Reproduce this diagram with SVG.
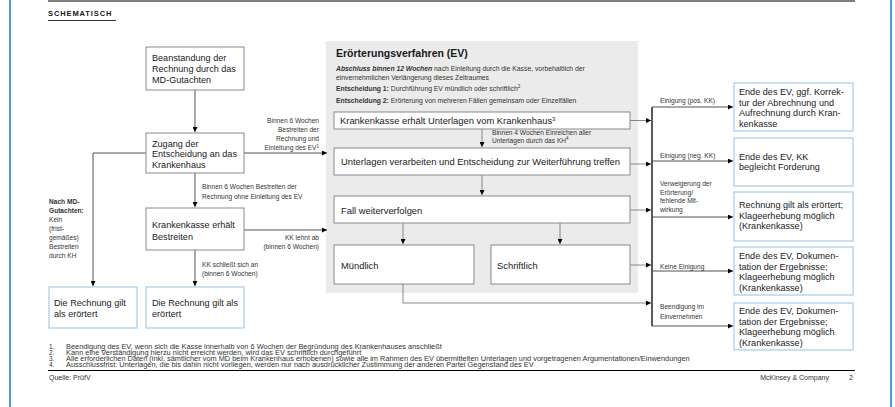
<svg xmlns="http://www.w3.org/2000/svg" width="895" height="407" viewBox="0 0 895 407">
<style>
text{font-family:"Liberation Sans",Arial,sans-serif;fill:#1a1a1a}
.bx{font-size:9.1px}
.be{font-size:9.4px}
.lb{font-size:6.6px;fill:#333}
.ds{font-size:6.8px;fill:#333}
.fn{font-size:6.4px;fill:#333}
.ft{font-size:7px;fill:#333}
.b{font-weight:bold}
.gb{fill:#fff;stroke:#8a8a8a;stroke-width:1}
.bb{fill:#fff;stroke:#a3cbe8;stroke-width:1.2}
.c{fill:none;stroke:#404040;stroke-width:0.9}
.cg{fill:none;stroke:#7a7a7a;stroke-width:0.9}
.bus{fill:none;stroke:#000;stroke-width:1.3}
</style>
<defs>
<marker id="ah" viewBox="0 0 6 6" refX="6" refY="3" markerWidth="5" markerHeight="5" orient="auto" markerUnits="userSpaceOnUse"><path d="M0,0 L6,3 L0,6 z" fill="#000"/></marker>
</defs>
<rect x="0" y="0" width="895" height="407" fill="#fff"/>
<g id="frame">
<rect x="9" y="0" width="2" height="407" fill="#4a9ad4"/>
<rect x="890" y="0" width="2" height="407" fill="#4a9ad4"/>
<line x1="48" y1="1" x2="855" y2="1" stroke="#000" stroke-width="1.2"/>
<text x="48" y="16" class="b" style="font-size:7.5px;letter-spacing:0.9px">SCHEMATISCH</text>
<line x1="48" y1="20.5" x2="116" y2="20.5" stroke="#000" stroke-width="0.8"/>
</g>
<g id="ev-panel">
<rect x="326" y="41" width="312" height="252" fill="#ebebeb"/>
<text x="336" y="57" class="b" style="font-size:10.5px">Erörterungsverfahren (EV)</text>
<text x="336" y="71" class="ds"><tspan class="b" font-style="italic">Abschluss binnen 12 Wochen</tspan> nach Einleitung durch die Kasse, vorbehaltlich der</text>
<text x="336" y="79.5" class="ds">einvernehmlichen Verlängerung dieses Zeitraumes</text>
<text x="336" y="91" class="ds"><tspan class="b">Entscheidung 1:</tspan> Durchführung EV mündlich oder schriftlich<tspan font-size="4.6" dy="-2.6">2</tspan></text>
<text x="336" y="103" class="ds"><tspan class="b">Entscheidung 2:</tspan> Erörterung von mehreren Fällen gemeinsam oder Einzelfällen</text>
</g>
<g id="connectors">
<path class="c" d="M195,90 V132" marker-end="url(#ah)"/>
<path class="c" d="M195,173 V207" marker-end="url(#ah)"/>
<path class="c" d="M195,250 V286" marker-end="url(#ah)"/>
<path class="c" d="M146,153 H93 V286" marker-end="url(#ah)"/>
<path class="c" d="M244,153 H327" marker-end="url(#ah)"/>
<path class="c" d="M244,230 H327" marker-end="url(#ah)"/>
<path class="cg" d="M482,129 V147" marker-end="url(#ah)"/>
<path class="cg" d="M482,175 V195" marker-end="url(#ah)"/>
<path class="cg" d="M403,223 V244" marker-end="url(#ah)"/>
<path class="cg" d="M560,223 V244" marker-end="url(#ah)"/>
<path class="cg" d="M630,120.5 H651" marker-end="url(#ah)"/>
<path class="cg" d="M630,164 H651" marker-end="url(#ah)"/>
<path class="cg" d="M630,210 H651" marker-end="url(#ah)"/>
<path class="cg" d="M630,265 H651" marker-end="url(#ah)"/>
<path class="cg" d="M403,284 V303 H651" marker-end="url(#ah)"/>
<path class="bus" d="M652,107 V326"/>
<path class="c" d="M652,107 H733" marker-end="url(#ah)"/>
<path class="c" d="M652,161 H733" marker-end="url(#ah)"/>
<path class="c" d="M652,217 H733" marker-end="url(#ah)"/>
<path class="c" d="M652,271 H733" marker-end="url(#ah)"/>
<path class="c" d="M652,326 H733" marker-end="url(#ah)"/>
</g>
<g id="connector-labels">
<text class="lb" text-anchor="end" x="319" y="123">Binnen 6 Wochen</text>
<text class="lb" text-anchor="end" x="319" y="132">Bestreiten der</text>
<text class="lb" text-anchor="end" x="319" y="141">Rechnung und</text>
<text class="lb" text-anchor="end" x="319" y="150">Einleitung des EV<tspan font-size="4.5" dy="-2.5">1</tspan></text>
<text class="lb" x="202" y="189">Binnen 6 Wochen Bestreiten der</text>
<text class="lb" x="202" y="199">Rechnung ohne Einleitung des EV</text>
<text class="lb" text-anchor="end" x="319" y="240">KK lehnt ab</text>
<text class="lb" text-anchor="end" x="319" y="249">(binnen 6 Wochen)</text>
<text class="lb" x="202" y="267">KK schließt sich an</text>
<text class="lb" x="202" y="276">(binnen 6 Wochen)</text>
<text class="lb b" x="49" y="204">Nach MD-</text>
<text class="lb b" x="49" y="213">Gutachten:</text>
<text class="lb" x="49" y="222">Kein</text>
<text class="lb" x="49" y="231">(frist-</text>
<text class="lb" x="49" y="240">gemäßes)</text>
<text class="lb" x="49" y="249">Bestreiten</text>
<text class="lb" x="49" y="258">durch KH</text>
<text class="lb" x="492" y="134.5">Binnen 4 Wochen Einreichen aller</text>
<text class="lb" x="492" y="142.5">Unterlagen durch das KH<tspan font-size="4.5" dy="-2.5">4</tspan></text>
<text class="lb" x="660" y="103">Einigung (pos. KK)</text>
<text class="lb" x="660" y="158">Einigung (neg. KK)</text>
<text class="lb" x="660" y="186">Verweigerung der</text>
<text class="lb" x="660" y="194.5">Erörterung/</text>
<text class="lb" x="660" y="203">fehlende Mit-</text>
<text class="lb" x="660" y="211.5">wirkung</text>
<text class="lb" x="660" y="269">Keine Einigung</text>
<text class="lb" x="660" y="309">Beendigung im</text>
<text class="lb" x="660" y="318.5">Einvernehmen</text>
</g>
<g id="n-beanstandung">
<rect class="gb" x="146" y="47" width="98" height="43"/>
<text class="bx" x="152" y="61">Beanstandung der</text>
<text class="bx" x="152" y="72">Rechnung durch das</text>
<text class="bx" x="152" y="83">MD-Gutachten</text>
</g>
<g id="n-zugang">
<rect class="gb" x="146" y="133" width="98" height="40"/>
<text class="bx" x="152" y="146.5">Zugang der</text>
<text class="bx" x="152" y="157">Entscheidung an das</text>
<text class="bx" x="152" y="167.5">Krankenhaus</text>
</g>
<g id="n-kk-bestreiten">
<rect class="gb" x="146" y="208" width="98" height="42"/>
<text class="bx" x="152" y="228">Krankenkasse erhält</text>
<text class="bx" x="152" y="239.5">Bestreiten</text>
</g>
<g id="n-eroertert-a">
<rect class="bb" x="49" y="287" width="88" height="41"/>
<text class="bx" x="54" y="306">Die Rechnung gilt</text>
<text class="bx" x="54" y="317">als erörtert</text>
</g>
<g id="n-eroertert-b">
<rect class="bb" x="146" y="287" width="98" height="41"/>
<text class="bx" x="152" y="306">Die Rechnung gilt als</text>
<text class="bx" x="152" y="317">erörtert</text>
</g>
<g id="n-unterlagen">
<rect class="gb" x="334" y="112" width="296" height="17"/>
<text class="be" x="340" y="124.2">Krankenkasse erhält Unterlagen vom Krankenhaus<tspan font-size="6" dy="-3">3</tspan></text>
</g>
<g id="n-verarbeiten">
<rect class="gb" x="334" y="148" width="296" height="27"/>
<text class="be" x="341" y="165">Unterlagen verarbeiten und Entscheidung zur Weiterführung treffen</text>
</g>
<g id="n-fall">
<rect class="gb" x="334" y="196" width="296" height="27"/>
<text class="be" x="341" y="214">Fall weiterverfolgen</text>
</g>
<g id="n-muendlich">
<rect class="gb" x="334" y="245" width="140" height="39"/>
<text class="be" x="341" y="269">Mündlich</text>
</g>
<g id="n-schriftlich">
<rect class="gb" x="491" y="245" width="139" height="39"/>
<text class="be" x="497" y="269">Schriftlich</text>
</g>
<g id="n-out1">
<rect class="bb" x="734" y="83" width="119" height="48"/>
<text class="bx" x="739" y="95">Ende des EV, ggf. Korrek-</text>
<text class="bx" x="739" y="105.5">tur der Abrechnung und</text>
<text class="bx" x="739" y="116">Aufrechnung durch Kran-</text>
<text class="bx" x="739" y="126.5">kenkasse</text>
</g>
<g id="n-out2">
<rect class="bb" x="734" y="138" width="119" height="48"/>
<text class="bx" x="739" y="159.5">Ende des EV, KK</text>
<text class="bx" x="739" y="170">begleicht Forderung</text>
</g>
<g id="n-out3">
<rect class="bb" x="734" y="192" width="119" height="49"/>
<text class="bx" x="739" y="208">Rechnung gilt als erörtert;</text>
<text class="bx" x="739" y="218.5">Klageerhebung möglich</text>
<text class="bx" x="739" y="229">(Krankenkasse)</text>
</g>
<g id="n-out4">
<rect class="bb" x="734" y="247" width="119" height="48"/>
<text class="bx" x="739" y="259">Ende des EV, Dokumen-</text>
<text class="bx" x="739" y="269.5">tation der Ergebnisse;</text>
<text class="bx" x="739" y="280">Klageerhebung möglich</text>
<text class="bx" x="739" y="290.5">(Krankenkasse)</text>
</g>
<g id="n-out5">
<rect class="bb" x="734" y="303" width="119" height="47"/>
<text class="bx" x="739" y="314">Ende des EV, Dokumen-</text>
<text class="bx" x="739" y="324.5">tation der Ergebnisse;</text>
<text class="bx" x="739" y="335">Klageerhebung möglich</text>
<text class="bx" x="739" y="345.5">(Krankenkasse)</text>
</g>
<g id="footnotes">
<text class="fn" x="49" y="349">1.</text>
<text class="fn" x="49" y="355">2.</text>
<text class="fn" x="49" y="361">3.</text>
<text class="fn" x="49" y="367">4.</text>
<g transform="translate(66,0) scale(1.156,1)">
<text class="fn" x="0" y="349">Beendigung des EV, wenn sich die Kasse innerhalb von 6 Wochen der Begründung des Krankenhauses anschließt</text>
<text class="fn" x="0" y="355">Kann eine Verständigung hierzu nicht erreicht werden, wird das EV schriftlich durchgeführt</text>
<text class="fn" x="0" y="361">Alle erforderlichen Daten (inkl. sämtlicher vom MD beim Krankenhaus erhobenen) sowie alle im Rahmen des EV übermittelten Unterlagen und vorgetragenen Argumentationen/Einwendungen</text>
<text class="fn" x="0" y="367">Ausschlussfrist: Unterlagen, die bis dahin nicht vorliegen, werden nur nach ausdrücklicher Zustimmung der anderen Partei Gegenstand des EV</text>
</g>
<line x1="48" y1="370.5" x2="855" y2="370.5" stroke="#000" stroke-width="1"/>
<text class="ft" x="49" y="380">Quelle: PrüfV</text>
<text class="ft" x="829" y="380" text-anchor="end">McKinsey &amp; Company</text>
<text class="ft" x="853" y="380" text-anchor="end">2</text>
</g>
</svg>
